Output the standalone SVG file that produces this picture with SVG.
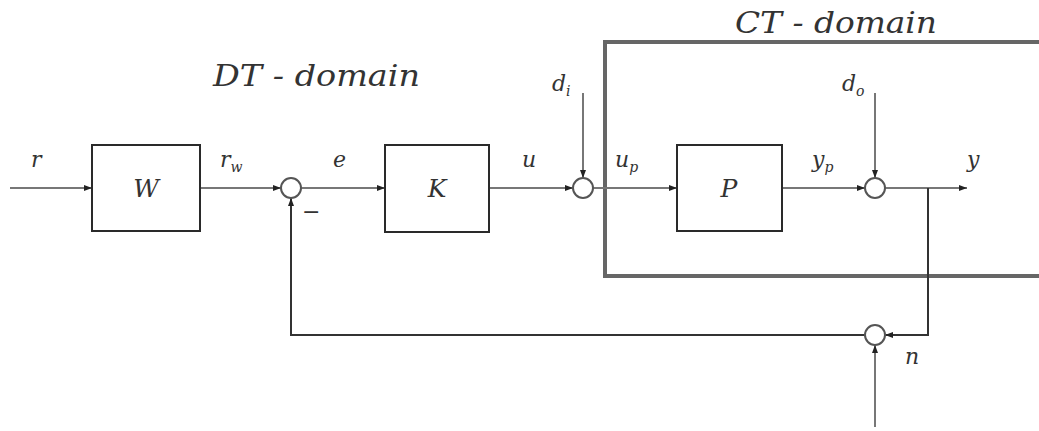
<svg xmlns="http://www.w3.org/2000/svg" width="1039" height="431" viewBox="0 0 1039 431">
<style>
.blk{fill:#fff;stroke:#2a2a2a;stroke-width:2}
.sum{fill:#fff;stroke:#555;stroke-width:2}
.ln{fill:none;stroke:#777;stroke-width:2}
.fb{fill:none;stroke:#333;stroke-width:2}
.lbl{font-family:'DejaVu Serif',serif;font-style:italic;fill:#333;font-size:22px}
.sub{font-size:14px}
.big{font-family:'DejaVu Serif',serif;font-style:italic;fill:#333;font-size:29px}
.box{font-family:'DejaVu Serif',serif;font-style:italic;fill:#333;font-size:25px;text-anchor:middle}
</style>
<defs>
<marker id="ah" viewBox="0 0 10 10" refX="10" refY="5" markerWidth="8" markerHeight="6" orient="auto" markerUnits="userSpaceOnUse" preserveAspectRatio="none">
<path d="M0,0 L10,5 L0,10 Z" fill="#222"/>
</marker>
</defs>
<rect x="0" y="0" width="1039" height="431" fill="#fff"/>
<g id="ct-domain">
<rect x="605" y="42" width="460" height="234" fill="none" stroke="#666" stroke-width="4"/>
<text class="big" x="735" y="33" textLength="202" lengthAdjust="spacingAndGlyphs">CT - domain</text>
</g>
<g id="dt-domain">
<text class="big" x="213" y="86" textLength="207" lengthAdjust="spacingAndGlyphs">DT - domain</text>
</g>
<g id="connectors">
<line class="ln" x1="10" y1="188" x2="92" y2="188" marker-end="url(#ah)"/>
<line class="ln" x1="200" y1="188" x2="281" y2="188" marker-end="url(#ah)"/>
<line class="ln" x1="301" y1="188" x2="385" y2="188" marker-end="url(#ah)"/>
<line class="ln" x1="489" y1="188" x2="573" y2="188" marker-end="url(#ah)"/>
<line class="ln" x1="583" y1="93" x2="583" y2="178" marker-end="url(#ah)"/>
<line class="ln" x1="593" y1="188" x2="677" y2="188" marker-end="url(#ah)"/>
<line class="ln" x1="782" y1="188" x2="865" y2="188" marker-end="url(#ah)"/>
<line class="ln" x1="875" y1="93" x2="875" y2="178" marker-end="url(#ah)"/>
<line class="ln" x1="885" y1="188" x2="967" y2="188" marker-end="url(#ah)"/>
<polyline class="fb" points="928,188 928,335 885,335" marker-end="url(#ah)"/>
<line class="ln" x1="875" y1="427" x2="875" y2="345" marker-end="url(#ah)"/>
<polyline class="fb" points="865,335 291,335 291,198" marker-end="url(#ah)"/>
</g>
<g id="W"><rect class="blk" x="92" y="145" width="108" height="86"/><text class="box" x="146" y="197">W</text></g>
<g id="K"><rect class="blk" x="385" y="145" width="104" height="87"/><text class="box" x="437" y="197">K</text></g>
<g id="P"><rect class="blk" x="677" y="145" width="105" height="86"/><text class="box" x="729" y="197">P</text></g>
<g id="sum1"><circle class="sum" cx="291" cy="188" r="10"/><text class="lbl" x="302" y="219">−</text></g>
<g id="sum2"><circle class="sum" cx="583" cy="188" r="10"/></g>
<g id="sum3"><circle class="sum" cx="875" cy="188" r="10"/></g>
<g id="sum4"><circle class="sum" cx="875" cy="335" r="10"/></g>
<g id="labels">
<text class="lbl" x="31" y="167">r</text>
<text class="lbl" x="220" y="167">r<tspan class="sub" dy="5">w</tspan></text>
<text class="lbl" x="333" y="167">e</text>
<text class="lbl" x="522" y="167">u</text>
<text class="lbl" x="615" y="167">u<tspan class="sub" dy="5">p</tspan></text>
<text class="lbl" x="812" y="167">y<tspan class="sub" dy="5">p</tspan></text>
<text class="lbl" x="967" y="167">y</text>
<text class="lbl" x="552" y="91">d<tspan class="sub" dy="5">i</tspan></text>
<text class="lbl" x="842" y="91">d<tspan class="sub" dy="5">o</tspan></text>
<text class="lbl" x="905" y="364">n</text>
</g>
</svg>
